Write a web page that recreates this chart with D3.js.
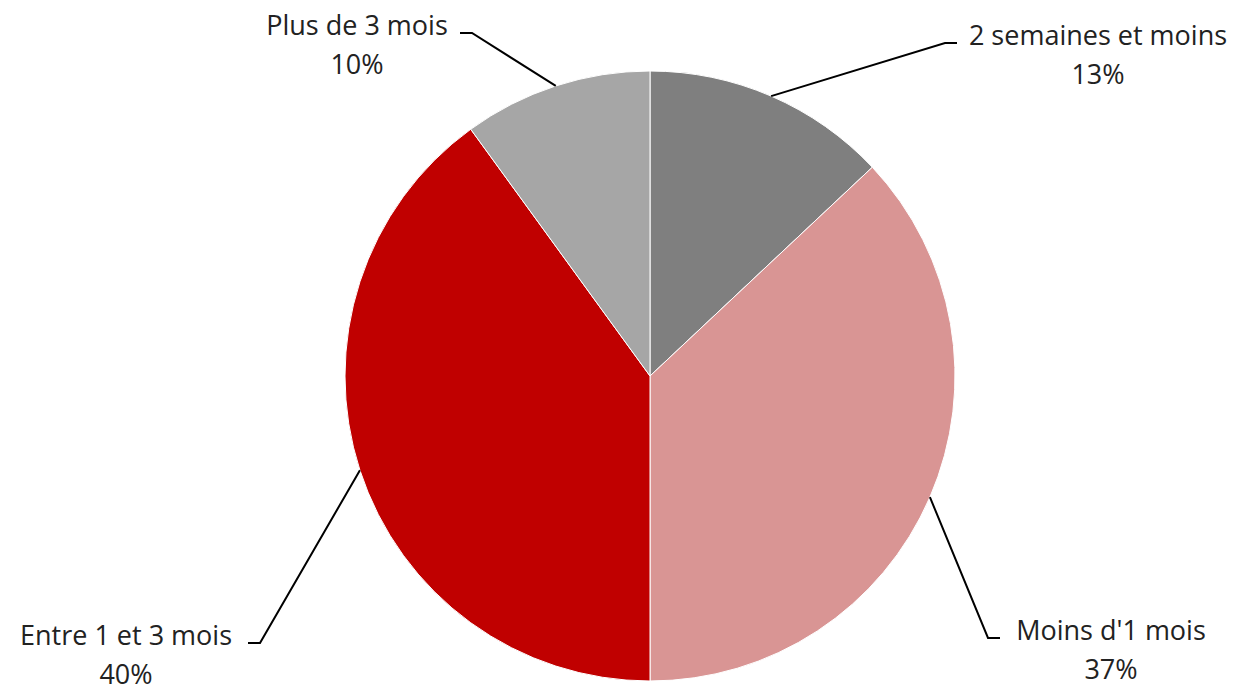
<!DOCTYPE html>
<html>
<head>
<meta charset="utf-8">
<script src="https://cdn.jsdelivr.net/npm/d3@7"></script>
<style>
  body { margin: 0; background: #fff; }
  text { font-family: "Open Sans", "Liberation Sans", sans-serif; fill: #222; }
</style>
</head>
<body>
<div id="container"></div>
<script>
// <---------data---------->
let categories = ["2 semaines et moins", "Moins d'1 mois", "Entre 1 et 3 mois", "Plus de 3 mois"];
let values = [13, 37, 40, 10];
let colors = ["#7f7f7f", "#d99594", "#c00000", "#a6a6a6"];

// label boxes: elbow point of the leader line + text anchor (layout only)
let labelPos = [
  { ex: 957, ey: 43, tx: 1098, side: "right" },
  { ex: 1000, ey: 638, tx: 1111, side: "right" },
  { ex: 248, ey: 643, tx: 126, side: "left" },
  { ex: 460, ey: 33, tx: 357, side: "left" }
];

let width = 1241, height = 691;
let cx = 650, cy = 376, radius = 305;

let viz = d3.select("#container")
  .append("svg")
    .attr("width", width)
    .attr("height", height)
;

let pie = d3.pie().sort(null).value(d => d);
let arcs = pie(values);

let arc = d3.arc().innerRadius(0).outerRadius(radius);

let g = viz.append("g").attr("transform", "translate(" + cx + "," + cy + ")");

g.selectAll(".slice").data(arcs).enter()
  .append("path")
    .attr("class", "slice")
    .attr("d", arc)
    .attr("fill", (d, i) => colors[i])
    .attr("stroke", "#fff")
    .attr("stroke-width", 1)
;

// <---------leader lines---------->
function edgePoint(d){
  let a = (d.startAngle + d.endAngle) / 2;
  return [cx + radius * Math.sin(a), cy - radius * Math.cos(a)];
}

viz.selectAll(".leader").data(arcs).enter()
  .append("polyline")
    .attr("class", "leader")
    .attr("points", (d, i) => {
      let p = edgePoint(d);
      let l = labelPos[i];
      let hx = l.side == "right" ? l.ex - 12 : l.ex + 12;
      return [p, [hx, l.ey], [l.ex, l.ey]].map(q => q.join(",")).join(" ");
    })
    .attr("fill", "none")
    .attr("stroke", "#000")
    .attr("stroke-width", 2)
;

// <---------labels---------->
let labels = viz.selectAll(".lbl").data(arcs).enter()
  .append("text")
    .attr("class", "lbl")
    .attr("text-anchor", "middle")
    .style("font-size", "27px")
;

labels.append("tspan")
  .attr("x", (d, i) => labelPos[i].tx)
  .attr("y", (d, i) => labelPos[i].ey + 2)
  .text((d, i) => categories[i]);

labels.append("tspan")
  .attr("x", (d, i) => labelPos[i].tx)
  .attr("y", (d, i) => labelPos[i].ey + 41)
  .text(d => d.data + "%");
</script>
</body>
</html>
